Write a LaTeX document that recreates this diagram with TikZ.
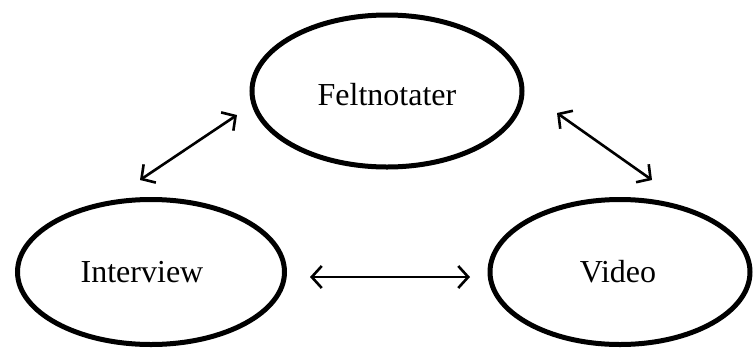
\documentclass[tikz,border=0pt]{standalone}
\usepackage{fontspec}
\setmainfont{Liberation Serif}
\usetikzlibrary{shapes.geometric,arrows.meta}
\begin{document}
\begin{tikzpicture}[x=1pt,y=-1pt,
  oval/.style={draw=black,ellipse,line width=5pt,inner sep=0pt},
  lbl/.style={font=\fontsize{32}{36}\selectfont,inner sep=0pt,anchor=center},
  link/.style={line width=2.6pt,{Straight Barb[length=10pt,width=22pt,line width=2.6pt]}-{Straight Barb[length=10pt,width=22pt,line width=2.6pt]}}]
\useasboundingbox (0,0) rectangle (753,349);
\fill[white] (0,0) rectangle (753,349);
\node[oval,minimum width=270pt,minimum height=152pt] (f) at (387,91) {};
\node[oval,minimum width=267pt,minimum height=145pt] (i) at (151,272) {};
\node[oval,minimum width=260pt,minimum height=145pt] (v) at (620,272) {};
\node[lbl] (ft) at (387,95) {Feltnotater};
\node[lbl] (it) at (142,272) {Interview};
\node[lbl] (vt) at (618,272) {Video};
\coordinate (a1) at (140,180);
\coordinate (a2) at (237,115);
\coordinate (b1) at (557,113);
\coordinate (b2) at (652,180);
\coordinate (c1) at (310,277);
\coordinate (c2) at (470,277);
\draw[link] (a1) -- (a2);
\draw[link] (b1) -- (b2);
\draw[link] (c1) -- (c2);
\end{tikzpicture}
\end{document}
